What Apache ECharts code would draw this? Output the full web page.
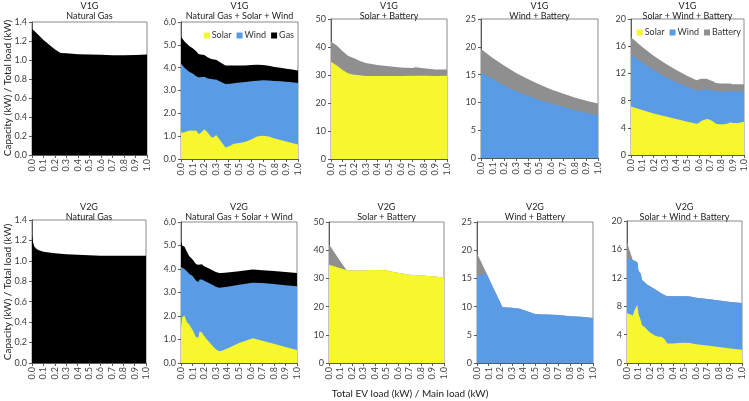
<!DOCTYPE html>
<html>
<head>
<meta charset="utf-8">
<script src="https://cdn.jsdelivr.net/npm/echarts@6/dist/echarts.min.js"></script>
<style>
  html, body { margin: 0; padding: 0; background: #fff; }
  #chart { width: 749px; height: 401px; }
</style>
</head>
<body>
<div id="chart"></div>
<script>
// V1G - Natural Gas
const x1 = [0, 0.05, 0.1, 0.15, 0.2, 0.25, 0.3, 0.4, 0.5, 0.6, 0.7, 0.8, 0.9, 1.0]
const gas1 = [1.33, 1.27, 1.21, 1.16, 1.11, 1.075, 1.07, 1.06, 1.058, 1.055, 1.05, 1.05, 1.052, 1.058]

// V1G - Natural Gas + Solar + Wind
const x2 = [0, 0.03, 0.07, 0.1, 0.13, 0.15, 0.17, 0.2, 0.23, 0.26, 0.28, 0.3, 0.33, 0.38, 0.42, 0.45, 0.5, 0.55, 0.6, 0.65, 0.7, 0.75, 0.8, 0.85, 0.9, 0.95, 1.0]
const solar2 = [1.15, 1.17, 1.25, 1.24, 1.25, 1.1, 1.15, 1.3, 1.15, 0.95, 0.95, 1.05, 0.85, 0.5, 0.58, 0.67, 0.7, 0.76, 0.85, 0.98, 1.02, 0.98, 0.9, 0.83, 0.77, 0.7, 0.63]
const wind2 = [3.03, 2.83, 2.57, 2.51, 2.37, 2.48, 2.43, 2.3, 2.38, 2.55, 2.53, 2.43, 2.55, 2.78, 2.72, 2.65, 2.65, 2.61, 2.55, 2.45, 2.43, 2.46, 2.52, 2.57, 2.61, 2.66, 2.7]
const gas2 = [1.17, 1.15, 1.13, 1.1, 1.1, 1.02, 1.0, 0.95, 0.92, 0.88, 0.88, 0.87, 0.85, 0.82, 0.8, 0.78, 0.75, 0.73, 0.72, 0.7, 0.67, 0.64, 0.61, 0.6, 0.57, 0.56, 0.55]

// V1G - Solar + Battery
const x3 = [0, 0.05, 0.1, 0.15, 0.2, 0.25, 0.3, 0.4, 0.5, 0.6, 0.7, 0.73, 0.8, 0.9, 1.0]
const solar3 = [34.7, 33.4, 31.8, 30.5, 30.1, 29.9, 29.6, 29.6, 29.6, 29.6, 29.7, 29.7, 29.7, 29.6, 29.7]
const battery3 = [7.3, 7.1, 6.7, 6.3, 5.9, 5.1, 4.7, 4.0, 3.5, 3.1, 2.8, 3.1, 2.7, 2.4, 2.3]

// V1G - Wind + Battery
const x4 = [0, 0.1, 0.2, 0.3, 0.4, 0.5, 0.6, 0.7, 0.8, 0.9, 1.0]
const wind4 = [15.4, 14.2, 13.0, 12.0, 11.2, 10.4, 9.8, 9.2, 8.6, 8.1, 7.7]
const battery4 = [4.2, 3.8, 3.6, 3.3, 3.0, 2.8, 2.5, 2.4, 2.3, 2.2, 2.1]

// V1G - Solar + Wind + Battery
const x5 = [0, 0.1, 0.2, 0.3, 0.4, 0.5, 0.58, 0.6, 0.62, 0.67, 0.7, 0.73, 0.75, 0.8, 0.85, 0.88, 0.9, 0.95, 1.0]
const solar5 = [7.15, 6.6, 6.1, 5.7, 5.3, 4.9, 4.6, 4.7, 5.0, 5.3, 5.2, 4.9, 4.6, 4.5, 4.6, 4.8, 4.7, 4.7, 4.9]
const wind5 = [7.6, 7.0, 6.4, 5.8, 5.4, 5.1, 4.9, 4.8, 4.6, 4.4, 4.4, 4.6, 4.8, 4.8, 4.7, 4.55, 4.7, 4.65, 4.45]
const battery5 = [2.55, 2.3, 2.1, 2.0, 1.8, 1.6, 1.5, 1.6, 1.6, 1.5, 1.4, 1.3, 1.2, 1.2, 1.2, 1.15, 1.0, 1.05, 1.05]

// V2G - Natural Gas
const x6 = [0, 0.01, 0.02, 0.04, 0.06, 0.1, 0.2, 0.3, 0.4, 0.5, 0.6, 0.7, 0.8, 0.9, 1.0]
const gas6 = [1.25, 1.18, 1.14, 1.115, 1.105, 1.09, 1.075, 1.065, 1.06, 1.055, 1.05, 1.05, 1.05, 1.05, 1.05]

// V2G - Natural Gas + Solar + Wind
const x7 = [0, 0.01, 0.03, 0.05, 0.07, 0.1, 0.13, 0.15, 0.16, 0.18, 0.2, 0.25, 0.3, 0.33, 0.35, 0.4, 0.5, 0.6, 0.62, 0.7, 0.8, 0.9, 1.0]
const solar7 = [1.5, 1.95, 2.02, 1.75, 1.65, 1.4, 1.1, 1.08, 1.35, 1.3, 1.15, 0.85, 0.58, 0.5, 0.52, 0.62, 0.85, 1.02, 1.05, 0.95, 0.82, 0.68, 0.55]
const wind7 = [2.58, 2.1, 1.98, 2.15, 2.15, 2.3, 2.4, 2.37, 2.2, 2.25, 2.35, 2.53, 2.67, 2.7, 2.69, 2.63, 2.48, 2.38, 2.37, 2.45, 2.54, 2.63, 2.72]
const gas7 = [1.09, 0.95, 0.95, 0.85, 0.75, 0.7, 0.7, 0.73, 0.67, 0.65, 0.62, 0.62, 0.62, 0.63, 0.62, 0.6, 0.57, 0.57, 0.56, 0.55, 0.55, 0.56, 0.56]

// V2G - Solar + Battery
const x8 = [0, 0.05, 0.1, 0.15, 0.18, 0.3, 0.35, 0.5, 0.55, 0.6, 0.7, 0.8, 0.9, 1.0]
const solar8 = [34.8, 34.2, 33.6, 33.0, 32.8, 32.8, 33.0, 32.9, 32.4, 32.0, 31.3, 31.0, 30.8, 30.3]
const battery8 = [7.3, 4.8, 2.4, 0.1, 0, 0, 0, 0, 0, 0, 0, 0, 0, 0]

// V2G - Wind + Battery
const x9 = [0, 0.05, 0.08, 0.15, 0.22, 0.3, 0.37, 0.4, 0.5, 0.55, 0.6, 0.7, 0.8, 0.9, 1.0]
const wind9 = [15.45, 15.7, 15.9, 12.9, 9.9, 9.8, 9.6, 9.4, 8.7, 8.6, 8.6, 8.5, 8.3, 8.2, 8.0]
const battery9 = [4.0, 1.6, 0.1, 0, 0, 0, 0, 0, 0, 0, 0, 0, 0, 0, 0]

// V2G - Solar + Wind + Battery
const x10 = [0, 0.02, 0.05, 0.07, 0.09, 0.1, 0.11, 0.12, 0.13, 0.15, 0.18, 0.2, 0.25, 0.28, 0.3, 0.33, 0.35, 0.4, 0.45, 0.5, 0.55, 0.6, 0.7, 0.8, 0.9, 1.0]
const solar10 = [7.05, 6.9, 6.7, 7.6, 8.2, 6.9, 6.7, 6.0, 5.3, 5.1, 4.6, 4.3, 3.8, 3.7, 3.7, 3.3, 2.75, 2.75, 2.8, 2.85, 2.8, 2.65, 2.45, 2.25, 2.05, 1.85]
const wind10 = [7.75, 7.8, 7.8, 6.75, 6.0, 6.1, 6.2, 6.6, 6.4, 6.3, 6.4, 6.5, 6.5, 6.3, 6.1, 6.25, 6.65, 6.65, 6.6, 6.55, 6.55, 6.55, 6.55, 6.55, 6.55, 6.6]
const battery10 = [2.2, 1.3, 0, 0, 0, 0, 0, 0, 0, 0, 0, 0, 0, 0, 0, 0, 0, 0, 0, 0, 0, 0, 0, 0, 0, 0]

const xTicks = [0, 0.1, 0.2, 0.3, 0.4, 0.5, 0.6, 0.7, 0.8, 0.9, 1.0]

const COLORS = {
  Solar: '#f7f72e',
  Wind: '#5a9be6',
  Gas: '#000000',
  Battery: '#8f8f8f'
}
const FONT = 'Lato'

// panel layout: grid box in px, y axis range and decimals
const panels = [
  { row: 'V1G', name: 'Natural Gas', box: [32, 22, 115, 133], max: 1.4, step: 0.2, dec: 1, x: x1, series: [['Gas', gas1]] },
  { row: 'V1G', name: 'Natural Gas + Solar + Wind', box: [181, 22, 117, 137], max: 6, step: 1, dec: 1, x: x2, series: [['Solar', solar2], ['Wind', wind2], ['Gas', gas2]] },
  { row: 'V1G', name: 'Solar + Battery', box: [331, 19, 116, 140], max: 50, step: 10, dec: 0, x: x3, series: [['Solar', solar3], ['Battery', battery3]] },
  { row: 'V1G', name: 'Wind + Battery', box: [481, 19, 117, 139], max: 25, step: 5, dec: 0, x: x4, series: [['Wind', wind4], ['Battery', battery4]] },
  { row: 'V1G', name: 'Solar + Wind + Battery', box: [631, 19, 113, 136], max: 20, step: 4, dec: 0, x: x5, series: [['Solar', solar5], ['Wind', wind5], ['Battery', battery5]] },
  { row: 'V2G', name: 'Natural Gas', box: [32, 220, 114, 143], max: 1.4, step: 0.2, dec: 1, x: x6, series: [['Gas', gas6]] },
  { row: 'V2G', name: 'Natural Gas + Solar + Wind', box: [181, 222, 116, 141], max: 6, step: 1, dec: 1, x: x7, series: [['Solar', solar7], ['Wind', wind7], ['Gas', gas7]] },
  { row: 'V2G', name: 'Solar + Battery', box: [329, 222, 115, 141], max: 50, step: 10, dec: 0, x: x8, series: [['Solar', solar8], ['Battery', battery8]] },
  { row: 'V2G', name: 'Wind + Battery', box: [477, 222, 116, 141], max: 25, step: 5, dec: 0, x: x9, series: [['Wind', wind9], ['Battery', battery9]] },
  { row: 'V2G', name: 'Solar + Wind + Battery', box: [627, 221, 115, 142], max: 20, step: 4, dec: 0, x: x10, series: [['Solar', solar10], ['Wind', wind10], ['Battery', battery10]] }
]

const grid = []
const xAxis = []
const yAxis = []
const series = []
const graphic = []

panels.forEach((p, i) => {
  const [left, top, width, height] = p.box
  grid.push({ left, top, width, height, show: true, borderColor: '#8a8a8a', borderWidth: 1, backgroundColor: 'transparent' })
  xAxis.push({
    type: 'value',
    gridIndex: i,
    min: 0,
    max: 1,
    interval: xTicks[1],
    axisLine: { show: true, onZero: false, lineStyle: { color: '#595959', width: 1 } },
    axisTick: { show: true, length: 3, lineStyle: { color: '#595959' } },
    axisLabel: {
      rotate: 90,
      fontSize: 9,
      fontFamily: FONT,
      color: '#404040',
      margin: 4,
      formatter: v => v.toFixed(1)
    },
    splitLine: { show: false }
  })
  yAxis.push({
    type: 'value',
    gridIndex: i,
    min: 0,
    max: p.max,
    interval: p.step,
    axisLine: { show: true, lineStyle: { color: '#595959', width: 1 } },
    axisTick: { show: true, length: 3, lineStyle: { color: '#595959' } },
    axisLabel: {
      fontSize: 9,
      fontFamily: FONT,
      color: '#404040',
      margin: 5,
      formatter: v => v.toFixed(p.dec)
    },
    splitLine: { show: false }
  })

  // stack by hand: running tops, drawn top layer first so lower layers paint over it
  let running = p.x.map(() => 0)
  const layers = p.series.map(([name, vals]) => {
    running = running.map((r, k) => r + vals[k])
    return { name, tops: running.slice() }
  })
  layers.reverse().forEach((l, j) => {
    series.push({
      name: l.name,
      type: 'line',
      xAxisIndex: i,
      yAxisIndex: i,
      z: 2 + j,
      symbol: 'none',
      smooth: false,
      animation: false,
      lineStyle: { width: 0 },
      itemStyle: { color: COLORS[l.name] },
      areaStyle: { color: COLORS[l.name], opacity: 1 },
      data: p.x.map((xv, k) => [xv, l.tops[k]])
    })
  })

  const cx = left + width / 2
  const y0 = p.row === 'V1G' ? 6 : 207
  graphic.push({
    type: 'text', x: cx, y: y0, style: { text: p.row, font: '9px ' + FONT, fill: '#222', textAlign: 'center', textVerticalAlign: 'middle' }
  })
  graphic.push({
    type: 'text', x: cx, y: y0 + 10, style: { text: p.name, font: '9px ' + FONT, fill: '#222', textAlign: 'center', textVerticalAlign: 'middle' }
  })
})

// shared axis titles
graphic.push({
  type: 'text', x: 8, y: 88, rotation: Math.PI / 2,
  style: { text: 'Capacity (kW) / Total load (kW)', font: '10px ' + FONT, fill: '#222', textAlign: 'center', textVerticalAlign: 'middle' }
})
graphic.push({
  type: 'text', x: 8, y: 292, rotation: Math.PI / 2,
  style: { text: 'Capacity (kW) / Total load (kW)', font: '10px ' + FONT, fill: '#222', textAlign: 'center', textVerticalAlign: 'middle' }
})
graphic.push({
  type: 'text', x: 410, y: 394,
  style: { text: 'Total EV load (kW) / Main load (kW)', font: '10px ' + FONT, fill: '#222', textAlign: 'center', textVerticalAlign: 'middle' }
})

const legendBase = {
  icon: 'rect',
  orient: 'horizontal',
  itemWidth: 6,
  itemHeight: 6,
  itemGap: 5,
  padding: 0,
  textStyle: { fontSize: 9, fontFamily: FONT, color: '#333', padding: [0, 0, 0, -3] },
  selectedMode: false
}

const chart = echarts.init(document.getElementById('chart'), null, { renderer: 'canvas' })
chart.setOption({
  backgroundColor: '#fff',
  animation: false,
  grid,
  xAxis,
  yAxis,
  series,
  graphic: graphic.map(g => Object.assign({ silent: true }, g)),
  legend: [
    Object.assign({}, legendBase, { right: 455, top: 31, data: ['Solar', 'Wind', 'Gas'] }),
    Object.assign({}, legendBase, { right: 8, top: 28, data: ['Solar', 'Wind', 'Battery'] })
  ]
})
</script>
</body>
</html>
